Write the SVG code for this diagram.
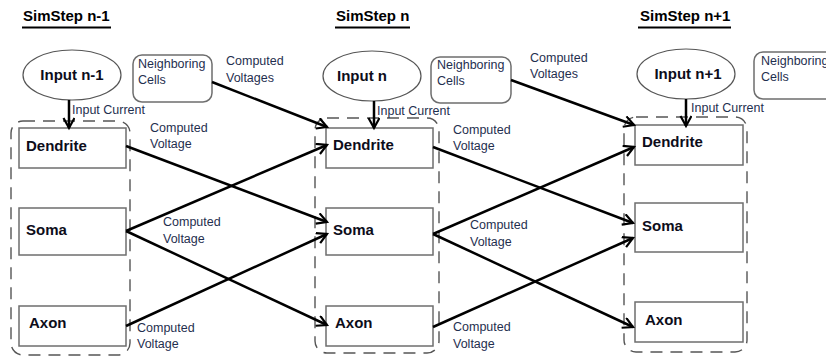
<svg xmlns="http://www.w3.org/2000/svg" width="826" height="360" viewBox="0 0 826 360">
<defs>
<marker id="arr" markerUnits="userSpaceOnUse" markerWidth="14" markerHeight="14" refX="11" refY="6" orient="auto">
<path d="M1,0.5 L11,6 L1,11.5" fill="none" stroke="#000" stroke-width="2.2"/>
</marker>
<style>
.title{font-family:"Liberation Sans",Arial,sans-serif;font-weight:bold;font-size:15px;fill:#000}
.ul{stroke:#000;stroke-width:2.2}
.node{font-family:"Liberation Sans",Arial,sans-serif;font-weight:bold;font-size:15px;fill:#0d0d1a}
.lbl{font-family:"Liberation Sans",Arial,sans-serif;font-size:12.5px;fill:#1f2f4f}
.box{fill:#fff;stroke:#6e6e6e;stroke-width:1.5}
.ell{fill:#fff;stroke:#555;stroke-width:1.2}
.cont{fill:none;stroke:#555;stroke-width:1.4;stroke-dasharray:12 8}
.conn{fill:none;stroke:#000;stroke-width:2.5;marker-end:url(#arr)}
</style>
</defs>
<rect width="826" height="360" fill="#fff"/>

<g id="titles">
<text class="title" x="23" y="21">SimStep n-1</text>
<line class="ul" x1="22" y1="27.5" x2="111" y2="27.5"/>
<text class="title" x="336" y="21">SimStep n</text>
<line class="ul" x1="335" y1="27.5" x2="410" y2="27.5"/>
<text class="title" x="640" y="21">SimStep n+1</text>
<line class="ul" x1="638" y1="27.5" x2="731" y2="27.5"/>
</g>

<g id="containers">
<rect class="cont" x="11" y="121" width="119" height="234" rx="12"/>
<rect class="cont" x="315" y="118" width="124" height="235" rx="12"/>
<rect class="cont" x="624" y="117" width="123" height="235" rx="12"/>
</g>

<g id="input1"><ellipse class="ell" cx="72" cy="75" rx="49" ry="25"/><text class="node" x="72" y="80" text-anchor="middle">Input n-1</text></g>
<g id="input2"><ellipse class="ell" cx="372" cy="76" rx="49" ry="25"/><text class="node" x="362" y="81" text-anchor="middle">Input n</text></g>
<g id="input3"><ellipse class="ell" cx="686" cy="74" rx="49" ry="25"/><text class="node" x="688" y="79" text-anchor="middle">Input n+1</text></g>

<g id="neigh1"><rect class="box" x="133" y="55" width="79" height="47" rx="9"/><text class="lbl" x="138" y="68">Neighboring</text><text class="lbl" x="138" y="84">Cells</text></g>
<g id="neigh2"><rect class="box" x="431" y="57" width="80" height="46" rx="9"/><text class="lbl" x="437" y="69">Neighboring</text><text class="lbl" x="437" y="85">Cells</text></g>
<g id="neigh3"><rect class="box" x="754" y="52" width="90" height="47" rx="9"/><text class="lbl" x="761" y="65">Neighboring</text><text class="lbl" x="761" y="81">Cells</text></g>

<g id="dendrite1"><rect class="box" x="19" y="128" width="107" height="40"/><text class="node" x="26" y="151">Dendrite</text></g>
<g id="soma1"><rect class="box" x="19" y="208" width="107" height="47"/><text class="node" x="26" y="235">Soma</text></g>
<g id="axon1"><rect class="box" x="19" y="306" width="107" height="40"/><text class="node" x="29" y="328">Axon</text></g>

<g id="dendrite2"><rect class="box" x="326" y="128" width="107" height="40"/><text class="node" x="333" y="150">Dendrite</text></g>
<g id="soma2"><rect class="box" x="326" y="208" width="107" height="47"/><text class="node" x="333" y="235">Soma</text></g>
<g id="axon2"><rect class="box" x="326" y="306" width="107" height="40"/><text class="node" x="335" y="328">Axon</text></g>

<g id="dendrite3"><rect class="box" x="635" y="125" width="108" height="40"/><text class="node" x="642" y="147">Dendrite</text></g>
<g id="soma3"><rect class="box" x="635" y="203" width="108" height="49"/><text class="node" x="642" y="231">Soma</text></g>
<g id="axon3"><rect class="box" x="635" y="302" width="108" height="40"/><text class="node" x="645" y="325">Axon</text></g>

<g id="connectors">
<line class="conn" x1="69" y1="100" x2="69" y2="128"/>
<line class="conn" x1="374" y1="101" x2="374" y2="128"/>
<line class="conn" x1="686" y1="99" x2="686" y2="126"/>
<line class="conn" x1="212" y1="82" x2="327" y2="127"/>
<line class="conn" x1="126" y1="146" x2="327" y2="222"/>
<line class="conn" x1="126" y1="231" x2="327" y2="145"/>
<line class="conn" x1="126" y1="231" x2="327" y2="325"/>
<line class="conn" x1="126" y1="326" x2="327" y2="234"/>
<line class="conn" x1="511" y1="80" x2="634" y2="125"/>
<line class="conn" x1="433" y1="147" x2="633" y2="223"/>
<line class="conn" x1="433" y1="234" x2="634" y2="147"/>
<line class="conn" x1="433" y1="234" x2="633" y2="327"/>
<line class="conn" x1="433" y1="327" x2="633" y2="238"/>
</g>

<g id="labels">
<text class="lbl" x="72" y="114">Input Current</text>
<text class="lbl" x="377" y="115">Input Current</text>
<text class="lbl" x="691" y="112">Input Current</text>
<text class="lbl" x="226" y="65">Computed</text><text class="lbl" x="226" y="82">Voltages</text>
<text class="lbl" x="530" y="62">Computed</text><text class="lbl" x="530" y="78">Voltages</text>
<text class="lbl" x="150" y="132">Computed</text><text class="lbl" x="150" y="148">Voltage</text>
<text class="lbl" x="453" y="134">Computed</text><text class="lbl" x="453" y="150">Voltage</text>
<text class="lbl" x="163" y="226">Computed</text><text class="lbl" x="163" y="243">Voltage</text>
<text class="lbl" x="470" y="229">Computed</text><text class="lbl" x="470" y="246">Voltage</text>
<text class="lbl" x="137" y="332">Computed</text><text class="lbl" x="137" y="348">Voltage</text>
<text class="lbl" x="453" y="331">Computed</text><text class="lbl" x="453" y="348">Voltage</text>
</g>
</svg>
